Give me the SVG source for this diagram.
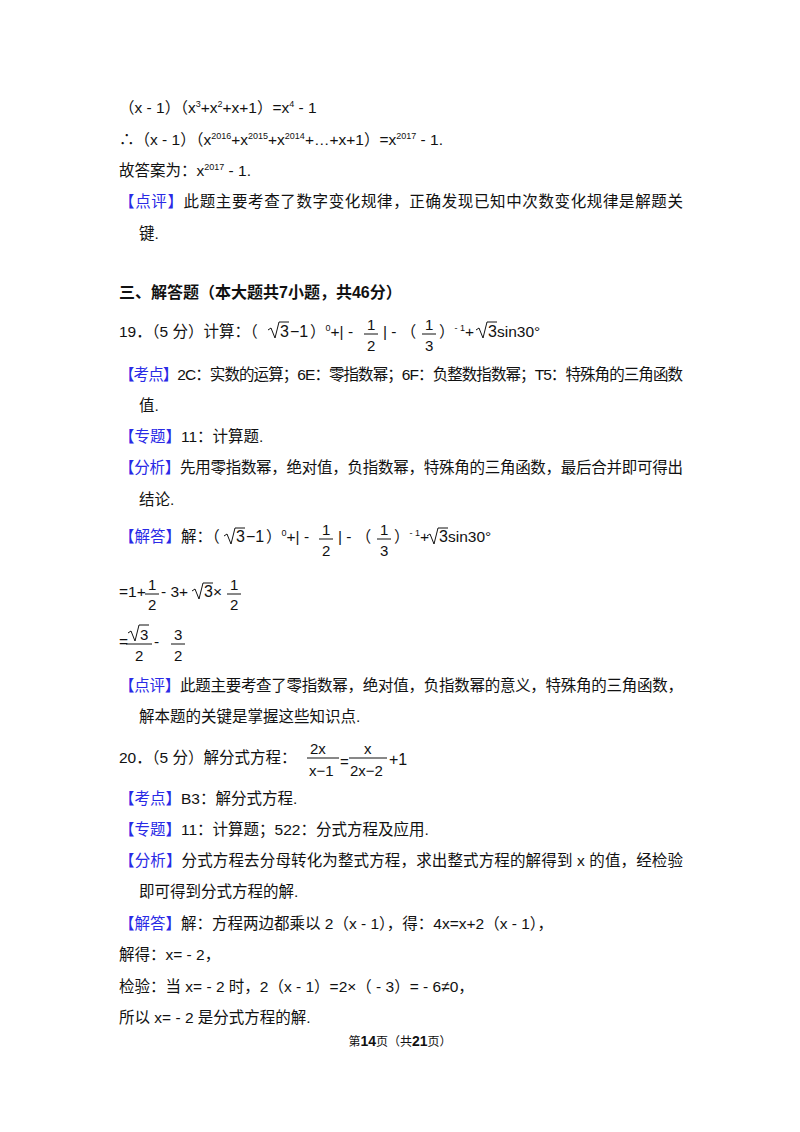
<svg xmlns="http://www.w3.org/2000/svg" width="800" height="1132" viewBox="0 0 800 1132">
<style>
text{font-family:"Liberation Sans","Noto Sans CJK SC",sans-serif;font-size:15.5px;fill:#111}
.b{fill:#2a2ae6}
.h{font-weight:bold;font-size:16px}
.s{font-size:9px}
.m{font-family:"Liberation Sans",sans-serif;font-size:16px}
.f{font-size:15px}
line,path{stroke:#111;stroke-width:1;fill:none}
</style>
<rect width="800" height="1132" fill="#fff"/>
<text x="119" y="113">（x - 1）（x<tspan class="s" dy="-6">3</tspan><tspan dy="6">+x</tspan><tspan class="s" dy="-6">2</tspan><tspan dy="6">+x+1）=x</tspan><tspan class="s" dy="-6">4</tspan><tspan dy="6"> - 1</tspan></text>
<text x="119" y="145">∴（x - 1）（x<tspan class="s" dy="-6">2016</tspan><tspan dy="6">+x</tspan><tspan class="s" dy="-6">2015</tspan><tspan dy="6">+x</tspan><tspan class="s" dy="-6">2014</tspan><tspan dy="6">+…+x+1）=x</tspan><tspan class="s" dy="-6">2017</tspan><tspan dy="6"> - 1.</tspan></text>
<text x="119" y="176">故答案为：x<tspan class="s" dy="-6">2017</tspan><tspan dy="6"> - 1.</tspan></text>
<text x="119" y="207" textLength="564" lengthAdjust="spacing"><tspan class="b">【点评】</tspan>此题主要考查了数字变化规律，正确发现已知中次数变化规律是解题关</text>
<text x="139" y="239">键.</text>
<text x="119" y="298" class="h">三、解答题（本大题共7小题，共46分）</text>

<text x="119" y="337">19．（5 分）计算：（</text>
<path d="M268,330 l3,-2 l4,10 l4,-16 h10"/>
<text x="280" y="337" class="m">3</text><text x="290" y="337" class="m">−1</text>
<text x="310" y="337">）<tspan class="s" dy="-6">0</tspan><tspan dy="6">+| - </tspan></text>
<text x="367" y="330" class="m f">1</text><line x1="364" y1="334" x2="378" y2="334"/><text x="367" y="351" class="m f">2</text>
<text x="383" y="337">| - （</text>
<text x="425" y="330" class="m f">1</text><line x1="422" y1="334" x2="436" y2="334"/><text x="425" y="351" class="m f">3</text>
<text x="439" y="337">）<tspan class="s" dy="-6">- 1</tspan><tspan dy="6">+</tspan></text>
<path d="M476,330 l3,-2 l4,10 l4,-16 h10"/>
<text x="488" y="337" class="m">3</text><text x="497" y="337">sin30°</text>

<text x="119" y="380" textLength="564" lengthAdjust="spacing"><tspan class="b">【考点】</tspan>2C：实数的运算；6E：零指数幂；6F：负整数指数幂；T5：特殊角的三角函数</text>
<text x="139" y="411">值.</text>
<text x="119" y="442"><tspan class="b">【专题】</tspan>11：计算题.</text>
<text x="119" y="473" textLength="564" lengthAdjust="spacing"><tspan class="b">【分析】</tspan>先用零指数幂，绝对值，负指数幂，特殊角的三角函数，最后合并即可得出</text>
<text x="139" y="505">结论.</text>

<text x="119" y="542"><tspan class="b">【解答】</tspan>解：（</text>
<path d="M224,536 l3,-2 l4,10 l4,-16 h10"/>
<text x="236" y="542" class="m">3</text><text x="246" y="542" class="m">−1</text>
<text x="266" y="542">）<tspan class="s" dy="-6">0</tspan><tspan dy="6">+| -</tspan></text>
<text x="322" y="535" class="m f">1</text><line x1="319" y1="539" x2="333" y2="539"/><text x="322" y="556" class="m f">2</text>
<text x="338" y="542">| - （</text>
<text x="380" y="535" class="m f">1</text><line x1="377" y1="539" x2="391" y2="539"/><text x="380" y="556" class="m f">3</text>
<text x="394" y="542">）<tspan class="s" dy="-6">- 1</tspan><tspan dy="6">+</tspan></text>
<path d="M427,536 l3,-2 l4,10 l4,-16 h10"/>
<text x="439" y="542" class="m">3</text><text x="448" y="542">sin30°</text>

<text x="119" y="597">=1+</text>
<text x="148" y="590" class="m f">1</text><line x1="145" y1="594" x2="159" y2="594"/><text x="148" y="610" class="m f">2</text>
<text x="161" y="597"> - 3+</text>
<path d="M192,591 l3,-2 l4,10 l4,-16 h10"/>
<text x="204" y="597" class="m">3</text><text x="213" y="597">×</text>
<text x="230" y="590" class="m f">1</text><line x1="227" y1="594" x2="241" y2="594"/><text x="230" y="610" class="m f">2</text>

<text x="119" y="647">=</text>
<path d="M128,633 l3,-2 l4,10 l4,-16 h10"/>
<text x="140" y="640" class="m f">3</text>
<line x1="126" y1="644" x2="152" y2="644"/><text x="135" y="661" class="m f">2</text>
<text x="154" y="647"> - </text>
<text x="174" y="640" class="m f">3</text><line x1="171" y1="644" x2="185" y2="644"/><text x="174" y="661" class="m f">2</text>

<text x="119" y="691" textLength="564" lengthAdjust="spacing"><tspan class="b">【点评】</tspan>此题主要考查了零指数幂，绝对值，负指数幂的意义，特殊角的三角函数，</text>
<text x="139" y="722">解本题的关键是掌握这些知识点.</text>

<text x="119" y="763">20．（5 分）解分式方程：</text>
<text x="310" y="754" class="m f">2x</text><line x1="307" y1="758" x2="339" y2="758"/><text x="309" y="776" class="m f">x−1</text>
<text x="340" y="767" class="m f">=</text>
<text x="364" y="754" class="m f">x</text><line x1="349" y1="758" x2="387" y2="758"/><text x="350" y="776" class="m f">2x−2</text>
<text x="389" y="765" class="m">+1</text>

<text x="119" y="804"><tspan class="b">【考点】</tspan>B3：解分式方程.</text>
<text x="119" y="835"><tspan class="b">【专题】</tspan>11：计算题；522：分式方程及应用.</text>
<text x="119" y="866" textLength="564" lengthAdjust="spacing"><tspan class="b">【分析】</tspan>分式方程去分母转化为整式方程，求出整式方程的解得到 x 的值，经检验</text>
<text x="139" y="897">即可得到分式方程的解.</text>
<text x="119" y="929"><tspan class="b">【解答】</tspan>解：方程两边都乘以 2（x - 1），得：4x=x+2（x - 1），</text>
<text x="119" y="960">解得：x= - 2，</text>
<text x="119" y="992">检验：当 x= - 2 时，2（x - 1）=2×（ - 3）= - 6≠0，</text>
<text x="119" y="1023">所以 x= - 2 是分式方程的解.</text>
<text x="400" y="1046" text-anchor="middle" style="font-size:12px">第<tspan font-weight="bold" style="font-size:14px">14</tspan>页（共<tspan font-weight="bold" style="font-size:14px">21</tspan>页）</text>
</svg>
